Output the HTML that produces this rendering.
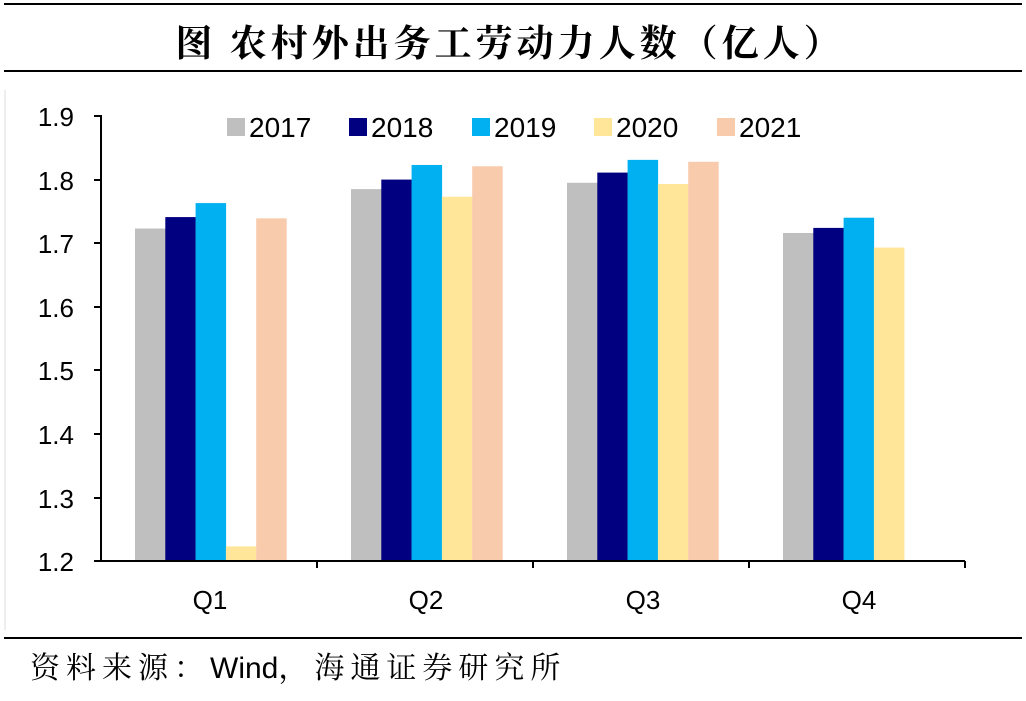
<!DOCTYPE html>
<html><head><meta charset="utf-8"><style>
body{margin:0;background:#fff;width:1026px;height:696px;overflow:hidden}
svg text{font-family:"Liberation Sans","Noto Sans CJK SC",sans-serif}
</style></head><body>
<svg width="1026" height="696" xmlns="http://www.w3.org/2000/svg">
<line x1="4" y1="4" x2="1022" y2="4" stroke="#000" stroke-width="2"/>
<text x="510" y="56" text-anchor="middle" font-size="37" font-weight="bold" letter-spacing="4" style="font-family:'Noto Serif CJK SC',serif">图  农村外出务工劳动力人数（亿人）</text>
<line x1="4" y1="71" x2="1022" y2="71" stroke="#000" stroke-width="2"/>
<line x1="5" y1="90" x2="5" y2="630" stroke="#ddd" stroke-width="1"/>
<g id="bars"></g>
<g stroke="#000" stroke-width="2">
<line x1="101" y1="115" x2="101" y2="562"/>
<line x1="100" y1="561" x2="965" y2="561"/>
<line x1="94" y1="116" x2="101" y2="116"/><line x1="94" y1="180" x2="101" y2="180"/><line x1="94" y1="243" x2="101" y2="243"/><line x1="94" y1="307" x2="101" y2="307"/><line x1="94" y1="370" x2="101" y2="370"/><line x1="94" y1="434" x2="101" y2="434"/><line x1="94" y1="498" x2="101" y2="498"/><line x1="94" y1="561" x2="101" y2="561"/>
<line x1="317" y1="561" x2="317" y2="568"/><line x1="533" y1="561" x2="533" y2="568"/><line x1="749" y1="561" x2="749" y2="568"/><line x1="965" y1="561" x2="965" y2="568"/>
</g>
<g font-size="26" text-anchor="end" fill="#000">
<text x="74" y="126">1.9</text><text x="74" y="190">1.8</text><text x="74" y="253">1.7</text><text x="74" y="317">1.6</text><text x="74" y="380">1.5</text><text x="74" y="444">1.4</text><text x="74" y="508">1.3</text><text x="74" y="571">1.2</text>
</g>
<g font-size="26" text-anchor="middle">
<text x="210" y="609">Q1</text><text x="426" y="609">Q2</text><text x="643" y="609">Q3</text><text x="859" y="609">Q4</text>
</g>
<g font-size="28">
<rect x="227" y="118" width="18" height="18" fill="#bfbfbf"/><text x="249" y="137">2017</text>
<rect x="349" y="118" width="18" height="18" fill="#000080"/><text x="371" y="137">2018</text>
<rect x="472" y="118" width="18" height="18" fill="#00b0f0"/><text x="494" y="137">2019</text>
<rect x="594" y="118" width="18" height="18" fill="#ffe699"/><text x="616" y="137">2020</text>
<rect x="717" y="118" width="18" height="18" fill="#f8cbad"/><text x="739" y="137">2021</text>
</g>
<line x1="4" y1="638" x2="1022" y2="638" stroke="#000" stroke-width="2"/>
<text x="30" y="678" font-size="30" letter-spacing="6" style="font-family:'Noto Serif CJK SC',serif">资料来源：<tspan style="font-family:'Liberation Sans',sans-serif" letter-spacing="0">Wind</tspan>，海通证券研究所</text>
</svg>
<script>
var d=[[1.723,1.741,1.763,1.223,1.739],[1.785,1.800,1.823,1.773,1.821],[1.795,1.811,1.831,1.793,1.828],[1.716,1.724,1.740,1.693,null]];
var c=["#bfbfbf","#000080","#00b0f0","#ffe699","#f8cbad"];
var g=document.getElementById("bars"),s="";
function y(v){return 561-(v-1.2)*635.7;}
for(var i=0;i<4;i++)for(var j=0;j<5;j++){if(d[i][j]==null)continue;var x=101+216*i+34+j*30.3;
s+='<rect x="'+x+'" y="'+y(d[i][j])+'" width="30.5" height="'+(561-y(d[i][j]))+'" fill="'+c[j]+'"/>';}
g.innerHTML=s;
</script>
</body></html>
